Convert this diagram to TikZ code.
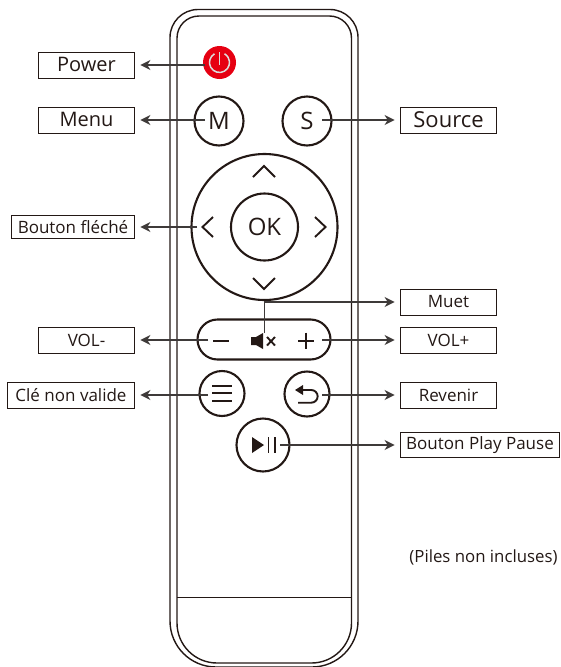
\documentclass[tikz,border=0pt]{standalone}
\usepackage{fontspec}
\setmainfont{Open Sans}
\usepackage{tikz}
\usetikzlibrary{arrows.meta, positioning}
\definecolor{ink}{HTML}{231815}
\definecolor{leader}{HTML}{3E3A39}
\definecolor{powerred}{HTML}{E60012}
\definecolor{powericon}{HTML}{DDDDDD}

\begin{document}
\begin{tikzpicture}[
    x=1pt, y=-1pt,
    shell/.style={draw=ink, line width=1.4pt},
    button/.style={circle, draw=ink, line width=2.1pt, inner sep=0pt, font=\fontsize{24}{24}\selectfont, text=ink},
    glyph/.style={draw=ink, line width=1.9pt},
    solid glyph/.style={fill=ink, draw=none},
    tag/.style={draw=ink, line width=0.9pt, inner sep=0pt, minimum height=26pt, text=ink, font=\fontsize{17}{17}\selectfont},
    bigtag/.style={tag, font=\fontsize{20}{20}\selectfont},
    arrow/.style={-{Stealth[length=10pt, width=10pt]}, line width=1.2pt, color=leader, shorten >=5.5pt}
]
\useasboundingbox (0,0) rectangle (560,667);

% Remote body
\draw[shell, rounded corners=28pt] (170,300) -- (170,9.5) -- (358,9.5) -- (358,300)
    [rounded corners=46pt] -- (358,667) -- (170,667) -- cycle;
\draw[shell, rounded corners=22pt] (177,300) -- (177,16) -- (351.5,16) -- (351.5,300)
    [rounded corners=40pt] -- (351.5,663) -- (177,663) -- cycle;
\draw[draw=ink, line width=0.9pt] (177,597) -- (351.5,597);

% Buttons
\node[circle, fill=powerred, minimum size=33pt, inner sep=0pt] (power) at (219.5,62.5) {};
\node[button, minimum size=49pt] (menu) at (219,121) {M};
\node[button, minimum size=49pt] (source) at (307,121) {S};
\node[button, minimum size=146pt] (dpad) at (264.5,227) {};
\node[button, minimum size=67pt] (ok) at (264.5,227) {OK};
\node[draw=ink, line width=2.1pt, rounded corners=20pt, minimum width=133pt, minimum height=40pt, inner sep=0pt] (volbar) at (264,339.5) {};
\node[button, minimum size=45pt] (list) at (222,393.5) {};
\node[button, minimum size=45pt] (back) at (307,394) {};
\node[button, minimum size=53pt] (play) at (263,445) {};

% Power icon
\draw[powericon, line width=1.5pt] (214.5,53.8) arc[start angle=120, end angle=420, radius=10pt];
\draw[powericon, line width=1.5pt] (219.5,52) -- (219.5,65);

% Arrow keys
\draw[glyph] (253,177) -- (264,166) -- (275,177);
\draw[glyph] (253,278) -- (264,289) -- (275,278);
\draw[glyph] (213,217) -- (202.5,227) -- (213,237);
\draw[glyph] (315,217) -- (325.5,227) -- (315,237);

% Volume bar icons
\draw[glyph] (213,340.7) -- (229,340.7);
\draw[glyph] (298,340.7) -- (314,340.7);
\draw[glyph] (306,332.7) -- (306,348.7);
\fill[solid glyph] (251,337) -- (256,337) -- (263,333) -- (263,349) -- (256,345) -- (251,345) -- cycle;
\draw[glyph] (267,337) -- (275,345.5);
\draw[glyph] (275,337) -- (267,345.5);

% List and back icons
\draw[glyph] (212,386) -- (232,386);
\draw[glyph] (212,393.3) -- (232,393.3);
\draw[glyph] (212,400.7) -- (232,400.7);
\fill[solid glyph] (295,390) -- (303,385) -- (303,395) -- cycle;
\draw[glyph] (301,390) -- (311.3,390) arc[start angle=90, end angle=-90, radius=6.35pt] -- (298,402.7);

% Play pause icon
\fill[solid glyph] (252,437) -- (264,445) -- (252,453) -- cycle;
\draw[glyph] (268.5,437) -- (268.5,453);
\draw[glyph] (275,437) -- (275,453);

% Labels
\node[bigtag, minimum width=96pt] (powertag) at (86.5,65) {\raisebox{1pt}{Power}};
\node[bigtag, minimum width=96pt] (menutag) at (86.5,120) {\raisebox{1pt}{Menu}};
\node[tag, minimum width=123pt, minimum height=23pt] (arrowtag) at (73,227) {Bouton fléché};
\node[tag, minimum width=96pt] (volminustag) at (86.5,340) {VOL-};
\node[tag, minimum width=127pt] (invalidtag) at (71,395) {Clé non valide};
\node[bigtag, minimum width=96pt, font=\fontsize{22}{22}\selectfont] (sourcetag) at (448.5,120) {Source};
\node[tag, minimum width=96pt] (mutetag) at (448.5,302) {Muet};
\node[tag, minimum width=96pt] (volplustag) at (448.5,340) {VOL+};
\node[tag, minimum width=96pt] (backtag) at (448.5,395) {Revenir};
\node[tag, minimum width=159pt, minimum height=25pt] (playtag) at (480,445) {Bouton Play Pause};
\node[text=ink, font=\fontsize{16.8}{16.8}\selectfont, inner sep=0pt] (batteries) at (483.5,557.5) {(Piles non incluses)};

% Leader ends inside the buttons
\coordinate (powerend) at (205,65);
\coordinate (menuend) at (205,120);
\coordinate (dpadend) at (197,227);
\coordinate (volminusend) at (208,340);
\coordinate (invalidend) at (208,395);
\coordinate (sourceend) at (322,120);
\coordinate (muteend) at (264.5,333);
\coordinate (volplusend) at (322,340);
\coordinate (backend) at (322,395);
\coordinate (playend) at (280,445);

% Arrows to labels
\draw[arrow] (powerend) -- (powertag.east);
\draw[arrow] (menuend) -- (menutag.east);
\draw[arrow] (dpadend) -- (arrowtag.east);
\draw[arrow] (volminusend) -- (volminustag.east);
\draw[arrow] (invalidend) -- (invalidtag.east);
\draw[arrow] (sourceend) -- (sourcetag.west);
\draw[arrow] (muteend) |- (mutetag.west);
\draw[arrow] (volplusend) -- (volplustag.west);
\draw[arrow] (backend) -- (backtag.west);
\draw[arrow] (playend) -- (playtag.west);

\end{tikzpicture}
\end{document}
